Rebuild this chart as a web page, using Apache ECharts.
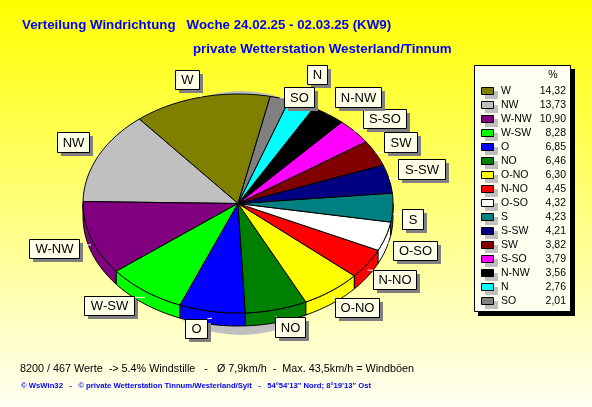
<!DOCTYPE html>
<html><head><meta charset="utf-8">
<style>html,body{margin:0;padding:0;background:#fff}#c{width:592px;height:407px}</style>
<script src="https://cdn.jsdelivr.net/npm/echarts@6/dist/echarts.min.js"></script>
</head><body><div id="c"></div>
<script>
const directions = ['W','NW','W-NW','W-SW','O','NO','O-NO','N-NO','O-SO','S','S-SW','SW','S-SO','N-NW','N','SO'];
const shares = [14.32,13.73,10.90,8.28,6.85,6.46,6.30,4.45,4.32,4.23,4.21,3.82,3.79,3.56,2.76,2.01];
const shareLabels = ['14,32','13,73','10,90','8,28','6,85','6,46','6,30','4,45','4,32','4,23','4,21','3,82','3,79','3,56','2,76','2,01'];
const colors = ['#808000','#C0C0C0','#800080','#00FF00','#0000FF','#008000','#FFFF00','#FF0000','#FFFFFF','#008080','#000080','#800000','#FF00FF','#000000','#00FFFF','#808080'];
const titleLine1 = 'Verteilung Windrichtung   Woche 24.02.25 - 02.03.25 (KW9)';
const titleLine2 = 'private Wetterstation Westerland/Tinnum';
const footer1 = '8200 / 467 Werte  -> 5.4% Windstille   -   Ø 7,9km/h  -  Max. 43,5km/h = Windböen';
const footer2 = '© WsWin32   -   © private Wetterstation Tinnum/Westerland/Sylt   -   54°54\'13" Nord; 8°19\'13" Ost';

// layout (not data)
const P = {cx:238, cy:203.5, rx:155, ry:109.5, depth:13, start:78};
const labelBoxes = [[175,70,24,19],[57,132,32,20],[29,239,50,19],[84,296,50,19],[185,319,22,19],[275,317,30,20],[335,298,44,19],[373,270,43,19],[393,241,44,19],[402,209,21,20],[398,159,47,20],[384,132,33,20],[363,109,43,19],[335,87,46,20],[307,65,20,19],[284,87,30,20]];
const total = shares.reduce((a,b)=>a+b,0);
let acc = P.start;
const spans = shares.map(v=>{const a=acc; acc+=v/total*360; return [a,acc];});
const pt=(d,dy=0)=>{const t=d*Math.PI/180;return [P.cx+P.rx*Math.cos(t),P.cy-P.ry*Math.sin(t)+dy];};
const arc=(a,b,dy=0)=>{const n=Math.max(2,Math.ceil((b-a)/1.5));const o=[];for(let i=0;i<=n;i++)o.push(pt(a+(b-a)*i/n,dy));return o;};
const line={stroke:'#000',lineWidth:1};

const chart = echarts.init(document.getElementById('c'),null,{renderer:'canvas'});
const rows = directions.map((d,i)=>[i,shares[i],d]);
const graphic=[
 {type:'ellipse',z:0,shape:{cx:241,cy:213,rx:122,ry:122},style:{fill:'#C0C0C0'}},
 {type:'text',z:10,style:{text:titleLine1,x:22,y:25,fill:'#0000FF',font:'bold 13.3px "Liberation Sans"',textVerticalAlign:'middle'}},
 {type:'text',z:10,style:{text:titleLine2,x:193,y:49,fill:'#0000FF',font:'bold 13.3px "Liberation Sans"',textVerticalAlign:'middle'}},
 {type:'text',z:10,style:{text:footer1,x:20,y:369,fill:'#000',font:'10.8px "Liberation Sans"',textVerticalAlign:'middle'}},
 {type:'text',z:10,style:{text:footer2,x:21,y:386,fill:'#0000FF',font:'bold 7.7px "Liberation Sans"',textVerticalAlign:'middle'}},
 {type:'rect',z:10,shape:{x:478,y:69,width:97,height:247},style:{fill:'#000'}},
 {type:'rect',z:11,shape:{x:474.5,y:65.5,width:96,height:246},style:{fill:'#FFFFF0',stroke:'#000',lineWidth:1}},
 {type:'text',z:12,style:{text:'%',x:553,y:75,fill:'#000',font:'10.5px "Liberation Sans"',textAlign:'center',textVerticalAlign:'middle'}}
];
directions.forEach((d,i)=>{
 const y=91+i*14;
 graphic.push(
  {type:'rect',z:12,shape:{x:485,y:y+0,width:13,height:8},style:{fill:'#C0C0C0'}},
  {type:'rect',z:13,shape:{x:481.5,y:y-3.5,width:12,height:7},style:{fill:colors[i],stroke:'#000',lineWidth:1}},
  {type:'text',z:13,style:{text:d,x:501,y:y,fill:'#000',font:'10.5px "Liberation Sans"',textVerticalAlign:'middle'}},
  {type:'text',z:13,style:{text:shareLabels[i],x:566,y:y,fill:'#000',font:'10.5px "Liberation Sans"',textAlign:'right',textVerticalAlign:'middle'}}
 );
});
chart.setOption({
 animation:false,
 backgroundColor:{type:'linear',x:0,y:0,x2:0,y2:1,colorStops:[{offset:0,color:'#FFFF00'},{offset:1,color:'#FFFFF4'}]},
 graphic,
 series:[
  {type:'custom',name:'Rand',z:2,coordinateSystem:'none',silent:true,data:rows,
   renderItem(p,api){const i=api.value(0);const [a,b]=spans[i];const parts=[];
    [[a,b],[a-360,b-360],[a+360,b+360]].forEach(([s,e])=>{
      const lo=Math.max(s,180),hi=Math.min(e,360);
      if(hi>lo)parts.push({type:'polygon',shape:{points:arc(lo,hi).concat(arc(lo,hi,P.depth).reverse())},style:{fill:colors[i],...line}});
    });
    return {type:'group',children:parts};}},
  {type:'custom',name:'Windrichtung',z:3,coordinateSystem:'none',silent:true,data:rows,
   renderItem(p,api){const i=api.value(0);const [a,b]=spans[i];
    return {type:'polygon',shape:{points:[[P.cx,P.cy]].concat(arc(a,b))},style:{fill:colors[i],...line}};}},
  {type:'custom',name:'Beschriftung',z:5,coordinateSystem:'none',silent:true,data:rows,
   renderItem(p,api){const i=api.value(0);const [a,b]=spans[i];const [x,y,w,h]=labelBoxes[i];
    const m=(a+b)/2;const rim=pt(m,(m%360)>180?P.depth*0.5:0);
    const tx=Math.min(x+w,Math.max(x,rim[0])),ty=Math.min(y+h,Math.max(y,rim[1]));
    return {type:'group',children:[
     {type:'line',shape:{x1:rim[0],y1:rim[1],x2:tx,y2:ty},style:{stroke:'#FFFFFF',lineWidth:1}},
     {type:'rect',shape:{x:x+4,y:y+4,width:w,height:h},style:{fill:'#808080'}},
     {type:'rect',shape:{x:x+.5,y:y+.5,width:w,height:h},style:{fill:'#FFFFE8',stroke:'#000',lineWidth:1}},
     {type:'text',style:{text:directions[i],x:x+w/2+.5,y:y+h/2+1,fill:'#000',font:'13px "Liberation Sans"',textAlign:'center',textVerticalAlign:'middle'}}
    ]};}}
 ]
});
</script></body></html>
